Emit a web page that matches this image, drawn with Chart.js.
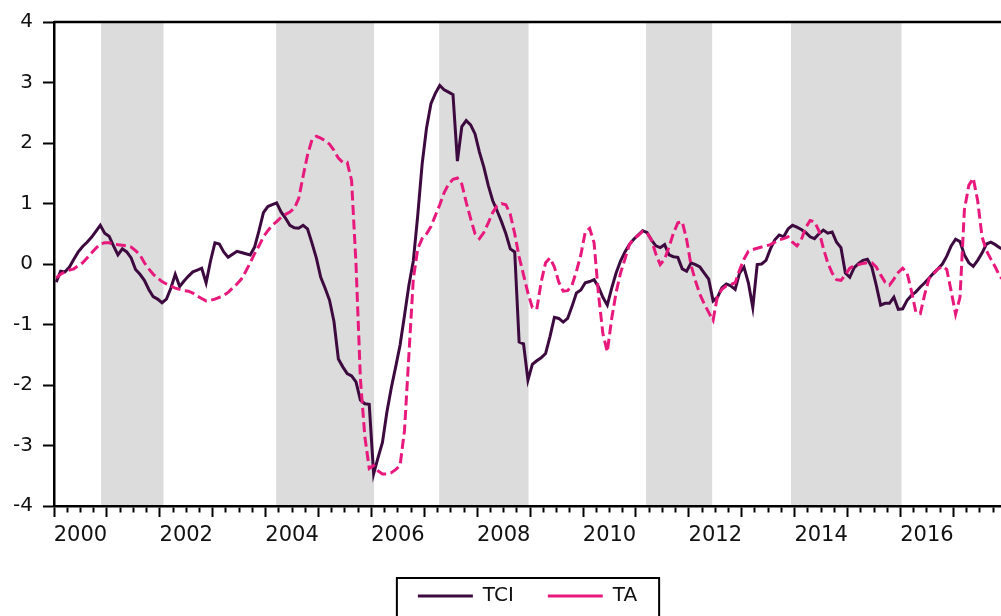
<!DOCTYPE html>
<html>
<head>
<meta charset="utf-8">
<script src="https://cdn.jsdelivr.net/npm/chart.js@4.4.1/dist/chart.umd.min.js"></script>
<style>
  html, body { margin: 0; padding: 0; background: #fff; }
  #wrap { width: 1001px; height: 616px; position: relative; }
</style>
</head>
<body>
<div id="wrap"><canvas id="chart"></canvas></div>
<script>
// monthly series, 2000M01 .. 2017M12
const startYear = 2000;

const tci = [
  -0.30, -0.12, -0.13, -0.05, 0.08, 0.20, 0.29, 0.36, 0.44, 0.54,
  0.64, 0.51, 0.46, 0.30, 0.15, 0.25, 0.20, 0.10, -0.09, -0.17,
  -0.27, -0.42, -0.54, -0.58, -0.64, -0.58, -0.40, -0.17, -0.37, -0.28,
  -0.20, -0.13, -0.10, -0.07, -0.31, 0.05, 0.35, 0.33, 0.20, 0.11,
  0.16, 0.21, 0.19, 0.17, 0.15, 0.28, 0.55, 0.85, 0.95, 0.98,
  1.01, 0.86, 0.76, 0.64, 0.60, 0.59, 0.64, 0.58, 0.35, 0.10,
  -0.22, -0.40, -0.60, -0.95, -1.57, -1.70, -1.81, -1.85, -1.95, -2.25,
  -2.31, -2.32, -3.47, -3.20, -2.95, -2.45, -2.05, -1.70, -1.34, -0.85,
  -0.35, 0.05, 0.80, 1.65, 2.25, 2.65, 2.82, 2.95, 2.88, 2.84,
  2.80, 1.70, 2.27, 2.37, 2.30, 2.15, 1.85, 1.60, 1.30, 1.05,
  0.88, 0.70, 0.50, 0.25, 0.20, -1.29, -1.32, -1.92, -1.66, -1.60,
  -1.55, -1.48, -1.20, -0.88, -0.90, -0.96, -0.90, -0.70, -0.48, -0.43,
  -0.31, -0.29, -0.26, -0.38, -0.55, -0.68, -0.40, -0.15, 0.05, 0.20,
  0.32, 0.41, 0.48, 0.55, 0.52, 0.40, 0.30, 0.27, 0.32, 0.15,
  0.12, 0.11, -0.08, -0.12, 0.02, -0.01, -0.05, -0.15, -0.25, -0.61,
  -0.55, -0.39, -0.33, -0.36, -0.42, -0.15, -0.05, -0.31, -0.72, -0.01,
  0.00, 0.06, 0.25, 0.40, 0.48, 0.45, 0.58, 0.64, 0.61, 0.57,
  0.52, 0.45, 0.42, 0.50, 0.56, 0.51, 0.53, 0.36, 0.27, -0.15,
  -0.22, -0.06, 0.01, 0.06, 0.08, -0.05, -0.35, -0.68, -0.65, -0.65,
  -0.55, -0.75, -0.74, -0.60, -0.52, -0.46, -0.38, -0.31, -0.23, -0.15,
  -0.08, 0.00, 0.13, 0.30, 0.41, 0.37, 0.15, 0.02, -0.04, 0.06,
  0.18, 0.33, 0.36, 0.32, 0.27, 0.23
];

const ta = [
  -0.23, -0.17, -0.13, -0.10, -0.08, -0.03, 0.02, 0.10, 0.18, 0.26,
  0.33, 0.35, 0.35, 0.33, 0.32, 0.31, 0.30, 0.28, 0.22, 0.15,
  0.02, -0.08, -0.17, -0.23, -0.29, -0.33, -0.36, -0.40, -0.42, -0.44,
  -0.45, -0.48, -0.53, -0.57, -0.61, -0.60, -0.58, -0.55, -0.52, -0.47,
  -0.40, -0.33, -0.25, -0.12, 0.02, 0.17, 0.30, 0.45, 0.55, 0.64,
  0.70, 0.77, 0.82, 0.86, 0.92, 1.08, 1.45, 1.80, 2.05, 2.11,
  2.08, 2.04, 1.98, 1.88, 1.75, 1.68, 1.68, 1.38, 0.00, -1.90,
  -2.85, -3.38, -3.33, -3.42, -3.47, -3.47, -3.45, -3.40, -3.33, -2.75,
  -1.50, -0.25, 0.25, 0.42, 0.50, 0.62, 0.80, 0.98, 1.18, 1.32,
  1.40, 1.42, 1.32, 1.02, 0.75, 0.50, 0.42, 0.52, 0.68, 0.85,
  0.96, 1.00, 0.98, 0.82, 0.50, 0.12, -0.18, -0.48, -0.72, -0.75,
  -0.30, 0.02, 0.10, -0.05, -0.30, -0.45, -0.44, -0.35, -0.12, 0.15,
  0.53, 0.59, 0.35, -0.50, -1.15, -1.45, -0.90, -0.47, -0.15, 0.08,
  0.32, 0.42, 0.47, 0.54, 0.52, 0.40, 0.17, -0.01, 0.08, 0.28,
  0.51, 0.68, 0.70, 0.40, -0.02, -0.28, -0.50, -0.66, -0.80, -0.93,
  -0.52, -0.42, -0.36, -0.34, -0.31, -0.10, 0.08, 0.21, 0.24, 0.26,
  0.28, 0.30, 0.32, 0.36, 0.40, 0.42, 0.45, 0.36, 0.30, 0.40,
  0.60, 0.72, 0.70, 0.55, 0.26, 0.02, -0.15, -0.26, -0.27, -0.18,
  -0.07, -0.03, -0.01, 0.01, 0.02, 0.02, -0.05, -0.18, -0.30, -0.35,
  -0.25, -0.14, -0.07, -0.15, -0.45, -0.80, -0.82, -0.50, -0.24, -0.16,
  -0.08, -0.04, -0.09, -0.45, -0.83, -0.55, 0.90, 1.30, 1.42, 1.05,
  0.45, 0.22, 0.08, -0.05, -0.20, -0.28
];

// shaded periods (decimal years)
const shaded = [[2000.89, 2002.07], [2004.20, 2006.05], [2007.28, 2008.97], [2011.19, 2012.44], [2013.93, 2016.02]];

// labelled years on the x axis
const yearLabels = [2000, 2002, 2004, 2006, 2008, 2010, 2012, 2014, 2016];

const monthX = i => startYear + (i + 0.5) / 12;

const bands = {
  id: 'bands',
  beforeDraw(chart) {
    const { ctx, chartArea: a, scales: { x } } = chart;
    ctx.save();
    ctx.fillStyle = '#dcdcdc';
    shaded.forEach(([s, e]) => {
      const x1 = x.getPixelForValue(s);
      const x2 = x.getPixelForValue(e);
      ctx.fillRect(x1, a.top, x2 - x1, a.bottom - a.top);
    });
    ctx.restore();
  },
  afterDraw(chart) {
    const { ctx, chartArea: a } = chart;
    ctx.save();
    ctx.strokeStyle = '#000';
    ctx.lineWidth = 2.5;
    ctx.beginPath();
    ctx.moveTo(a.left, a.top);
    ctx.lineTo(a.right, a.top);
    ctx.stroke();

    // frame round the legend
    const hb = chart.legend.legendHitBoxes;
    if (hb && hb.length) {
      const l = hb[0].left - 21;
      const r = hb[hb.length - 1].left + hb[hb.length - 1].width + 22;
      const t = hb[0].top - 8;
      ctx.lineWidth = 2;
      ctx.strokeRect(l, t, r - l, 80);
    }
    ctx.restore();
  }
};

new Chart(document.getElementById('chart'), {
  type: 'line',
  data: {
    datasets: [
      {
        label: 'TCI',
        data: tci.map((v, i) => ({ x: monthX(i), y: v })),
        borderColor: '#3d0a3f',
        borderWidth: 3,
        pointRadius: 0,
        tension: 0,
        order: 1
      },
      {
        label: 'TA',
        data: ta.map((v, i) => ({ x: monthX(i), y: v })),
        borderColor: '#e8197d',
        borderWidth: 3,
        borderDash: [10, 4.5],
        pointRadius: 0,
        tension: 0,
        order: 0
      }
    ]
  },
  options: {
    responsive: true,
    maintainAspectRatio: false,
    animation: false,
    layout: { padding: { top: 16, right: 0, bottom: 0, left: 0 } },
    plugins: {
      tooltip: { enabled: false },
      legend: {
        position: 'bottom',
        fullSize: false,
        labels: {
          usePointStyle: true,
          pointStyle: 'line',
          pointStyleWidth: 55,
          padding: 34,
          color: '#111',
          font: { family: 'DejaVu Sans', size: 20 },
          sort: (a, b) => a.datasetIndex - b.datasetIndex
        }
      }
    },
    scales: {
      x: {
        type: 'linear',
        min: 2000,
        max: 2017.9,
        afterBuildTicks: s => {
          s.ticks = [];
          for (let q = 0; q <= 71; q++) s.ticks.push({ value: startYear + q / 4 });
        },
        afterFit: s => { s.height = 46; },
        grid: {
          drawOnChartArea: false,
          tickLength: 11,
          tickWidth: 2,
          tickColor: '#000',
          tickBorderDash: c => (c.tick && !Number.isInteger(c.tick.value)) ? [5, 40] : []
        },
        border: { color: '#000', width: 2.5 },
        ticks: {
          autoSkip: false,
          maxRotation: 0,
          padding: 6,
          color: '#111',
          font: { family: 'DejaVu Sans', size: 21 },
          callback: v => {
            const y = Math.floor(v);
            return (Math.abs(v - y - 0.5) < 1e-6 && yearLabels.includes(y)) ? String(y) : '';
          }
        }
      },
      y: {
        min: -4,
        max: 4,
        afterFit: s => { s.width = 54; },
        grid: { drawOnChartArea: false, tickLength: 11, tickWidth: 2, tickColor: '#000' },
        border: { color: '#000', width: 2.5 },
        ticks: {
          stepSize: 1,
          padding: 10,
          color: '#111',
          font: { family: 'DejaVu Sans', size: 20 }
        }
      }
    }
  },
  plugins: [bands]
});
</script>
</body>
</html>
